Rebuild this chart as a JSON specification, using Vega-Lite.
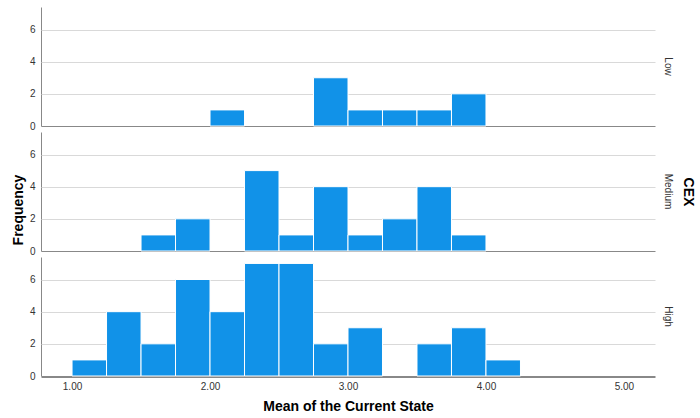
{
  "$schema": "https://vega.github.io/schema/vega-lite/v6.json",
  "padding": {"left": 12, "top": 7, "right": 0, "bottom": 2},
  "title": {
    "text": "Frequency",
    "orient": "left",
    "anchor": "middle",
    "fontSize": 14,
    "fontWeight": "bold",
    "font": "Liberation Sans",
    "color": "#000000",
    "offset": 3
  },
  "data": {
    "values": [
      {"CEX": "Low", "bin_start": 2.00, "bin_end": 2.25, "count": 1},
      {"CEX": "Low", "bin_start": 2.75, "bin_end": 3.00, "count": 3},
      {"CEX": "Low", "bin_start": 3.00, "bin_end": 3.25, "count": 1},
      {"CEX": "Low", "bin_start": 3.25, "bin_end": 3.50, "count": 1},
      {"CEX": "Low", "bin_start": 3.50, "bin_end": 3.75, "count": 1},
      {"CEX": "Low", "bin_start": 3.75, "bin_end": 4.00, "count": 2},
      {"CEX": "Medium", "bin_start": 1.50, "bin_end": 1.75, "count": 1},
      {"CEX": "Medium", "bin_start": 1.75, "bin_end": 2.00, "count": 2},
      {"CEX": "Medium", "bin_start": 2.25, "bin_end": 2.50, "count": 5},
      {"CEX": "Medium", "bin_start": 2.50, "bin_end": 2.75, "count": 1},
      {"CEX": "Medium", "bin_start": 2.75, "bin_end": 3.00, "count": 4},
      {"CEX": "Medium", "bin_start": 3.00, "bin_end": 3.25, "count": 1},
      {"CEX": "Medium", "bin_start": 3.25, "bin_end": 3.50, "count": 2},
      {"CEX": "Medium", "bin_start": 3.50, "bin_end": 3.75, "count": 4},
      {"CEX": "Medium", "bin_start": 3.75, "bin_end": 4.00, "count": 1},
      {"CEX": "High", "bin_start": 1.00, "bin_end": 1.25, "count": 1},
      {"CEX": "High", "bin_start": 1.25, "bin_end": 1.50, "count": 4},
      {"CEX": "High", "bin_start": 1.50, "bin_end": 1.75, "count": 2},
      {"CEX": "High", "bin_start": 1.75, "bin_end": 2.00, "count": 6},
      {"CEX": "High", "bin_start": 2.00, "bin_end": 2.25, "count": 4},
      {"CEX": "High", "bin_start": 2.25, "bin_end": 2.50, "count": 7},
      {"CEX": "High", "bin_start": 2.50, "bin_end": 2.75, "count": 7},
      {"CEX": "High", "bin_start": 2.75, "bin_end": 3.00, "count": 2},
      {"CEX": "High", "bin_start": 3.00, "bin_end": 3.25, "count": 3},
      {"CEX": "High", "bin_start": 3.50, "bin_end": 3.75, "count": 2},
      {"CEX": "High", "bin_start": 3.75, "bin_end": 4.00, "count": 3},
      {"CEX": "High", "bin_start": 4.00, "bin_end": 4.25, "count": 1}
    ]
  },
  "spacing": {"row": 5},
  "facet": {
    "row": {
      "field": "CEX",
      "type": "nominal",
      "sort": ["Low", "Medium", "High"],
      "title": "CEX",
      "header": {
        "labelOrient": "right",
        "labelAngle": 90,
        "labelFontSize": 10,
        "labelColor": "#333333",
        "labelFont": "Liberation Sans",
        "labelPadding": 8,
        "titleOrient": "right",
        "titleAngle": 90,
        "titleFontSize": 14,
        "titleFontWeight": "bold",
        "titleFont": "Liberation Sans",
        "titleColor": "#000000",
        "titlePadding": -2
      }
    }
  },
  "spec": {
    "width": 614,
    "height": 119,
    "mark": {"type": "rect", "color": "#1192e8", "stroke": "#ffffff", "strokeWidth": 1},
    "encoding": {
      "x": {
        "field": "bin_start",
        "type": "quantitative",
        "scale": {"domain": [0.775, 5.225], "nice": false, "zero": false},
        "axis": {
          "values": [1, 2, 3, 4, 5],
          "format": ".2f",
          "title": "Mean of the Current State",
          "grid": false,
          "ticks": false,
          "domain": true,
          "domainColor": "#888888",
          "labelPadding": 4,
          "titlePadding": 8
        }
      },
      "x2": {"field": "bin_end"},
      "y": {
        "field": "count",
        "type": "quantitative",
        "scale": {"domain": [0, 7.4], "nice": false},
        "axis": {
          "values": [0, 2, 4, 6],
          "title": null,
          "ticks": false,
          "domain": true,
          "domainColor": "#888888",
          "grid": true,
          "gridColor": {"condition": {"test": "datum.value === 0", "value": "#888888"}, "value": "#d9d9d9"},
          "gridWidth": 1,
          "labelPadding": 6
        }
      },
      "y2": {"datum": 0}
    }
  },
  "config": {
    "font": "Liberation Sans",
    "view": {"stroke": null},
    "axis": {
      "labelFontSize": 10,
      "labelColor": "#333333",
      "labelFont": "Liberation Sans",
      "titleFontSize": 14,
      "titleFontWeight": "bold",
      "titleColor": "#000000",
      "titleFont": "Liberation Sans"
    }
  }
}
